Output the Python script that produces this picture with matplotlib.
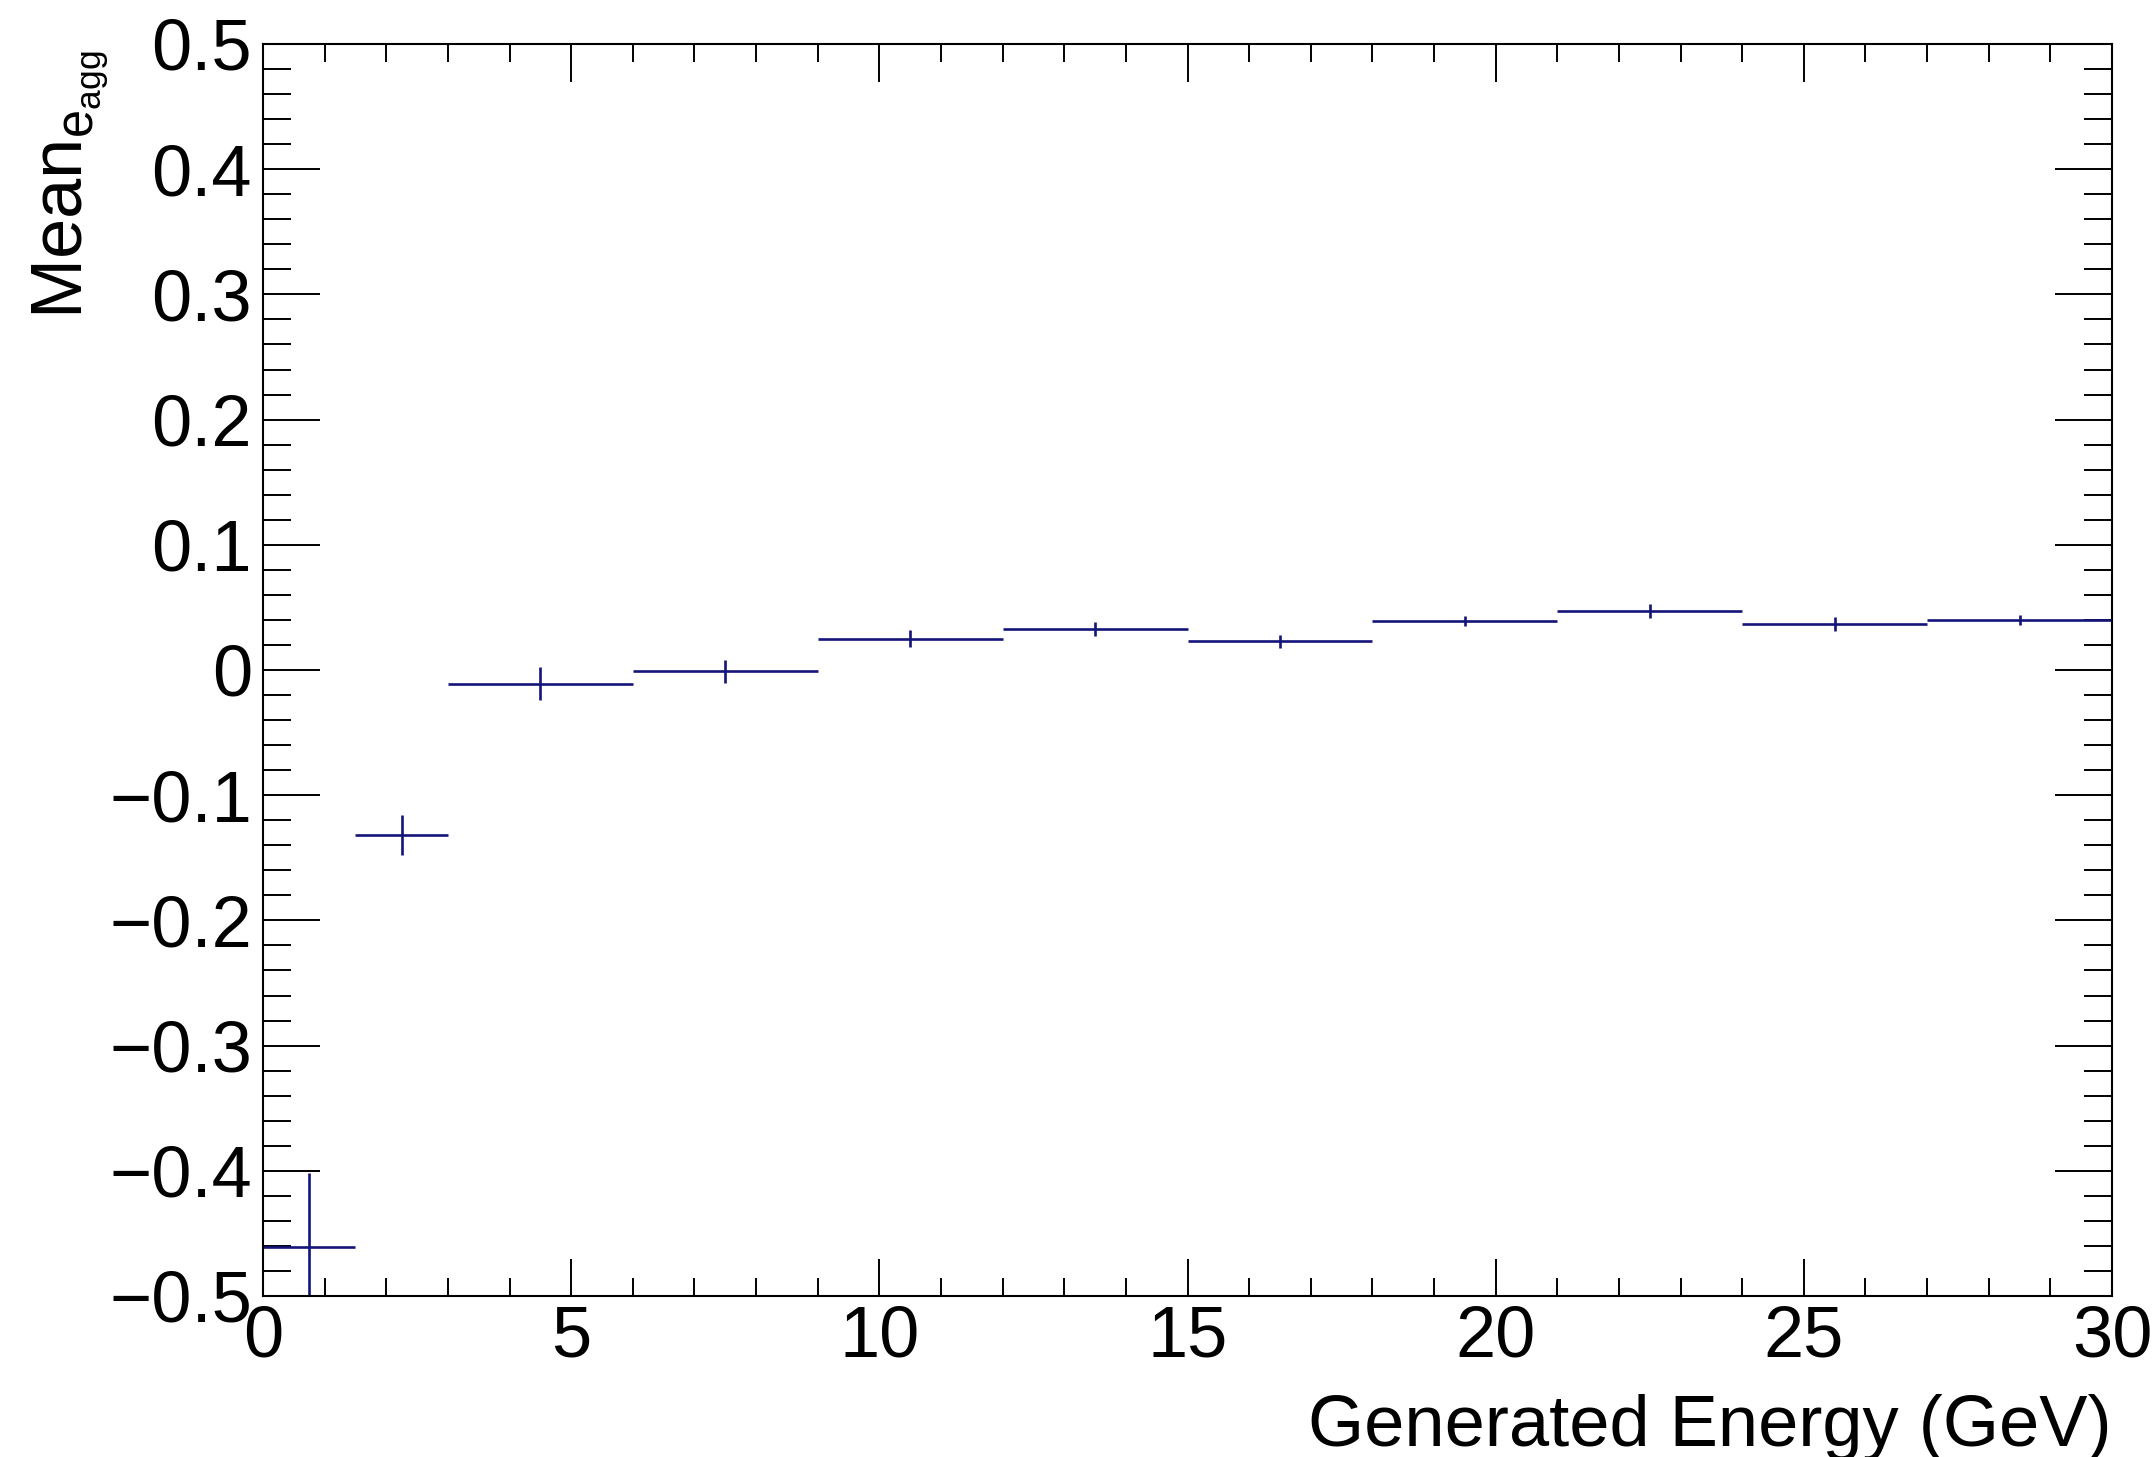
import matplotlib
matplotlib.use("Agg")
import matplotlib.pyplot as plt
from matplotlib.ticker import MultipleLocator
import numpy as np

plt.rcParams["font.family"] = ["Liberation Sans", "DejaVu Sans"]
plt.rcParams["mathtext.fontset"] = "custom"
plt.rcParams["mathtext.rm"] = "Liberation Sans"
plt.rcParams["mathtext.it"] = "Liberation Sans"

# energy bins (GeV) and the mean per bin with its error
bin_edges = [0, 1.5, 3, 6, 9, 12, 15, 18, 21, 24, 27, 30]
mean_vals = [-0.461, -0.132, -0.011, -0.001, 0.025, 0.033, 0.023, 0.039, 0.047, 0.037, 0.040]
mean_errs = [0.059, 0.016, 0.013, 0.009, 0.0067, 0.0055, 0.0053, 0.0042, 0.0054, 0.0055, 0.004]

edges = np.array(bin_edges, dtype=float)
centers = 0.5 * (edges[1:] + edges[:-1])
halfw = 0.5 * (edges[1:] - edges[:-1])

W, H = 2156, 1457
fig = plt.figure(figsize=(W / 100, H / 100), dpi=100)
ax = fig.add_axes([263 / W, 1 - 1296 / H, (2112 - 263) / W, (1296 - 44) / H])

line_col = "#14147a"
ax.errorbar(centers, mean_vals, xerr=halfw, yerr=mean_errs, fmt="none",
            ecolor=line_col, elinewidth=1.9, capsize=0, clip_on=True)

ax.set_xlim(0, 30)
ax.set_ylim(-0.5, 0.5)

ax.xaxis.set_major_locator(MultipleLocator(5))
ax.xaxis.set_minor_locator(MultipleLocator(1))
ax.yaxis.set_major_locator(MultipleLocator(0.1))
ax.yaxis.set_minor_locator(MultipleLocator(0.02))
ax.yaxis.set_major_formatter(plt.FuncFormatter(
    lambda v, p: "0" if abs(v) < 1e-9 else ("%.1f" % v).replace("-", "\u2212")))

for sp in ax.spines.values():
    sp.set_linewidth(1.5)

ax.tick_params(axis="both", which="both", direction="in", top=True, right=True,
               width=1.4, labelsize=52, colors="black")
ax.tick_params(axis="x", which="major", length=27, pad=6)
ax.tick_params(axis="x", which="minor", length=13)
ax.tick_params(axis="y", which="major", length=41, pad=8)
ax.tick_params(axis="y", which="minor", length=20)

fig.text(2112 / W, 1 - 1446 / H, "Generated Energy (GeV)", fontsize=52,
         ha="right", va="baseline")
fig.text(83 / W, 1 - 50 / H, r"Mean$_{\mathrm{e}_{\mathrm{agg}}}$", fontsize=52,
         rotation=90, rotation_mode="anchor", ha="right", va="baseline")

fig.savefig("out.png", dpi=100)
